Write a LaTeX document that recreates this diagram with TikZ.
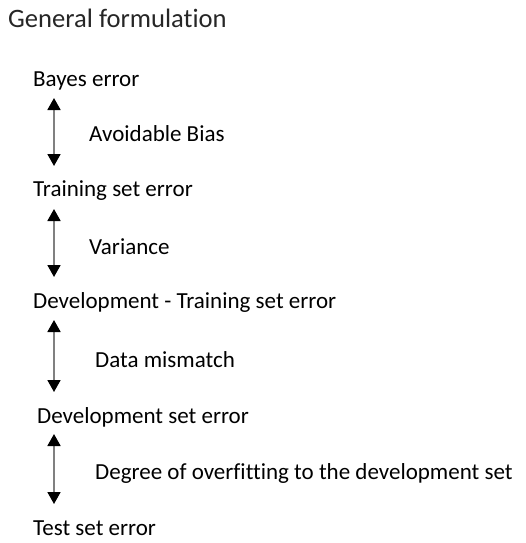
\documentclass[tikz,border=0pt]{standalone}
\usepackage{fontspec}
\setmainfont[Ligatures={NoCommon,TeX}]{Carlito}
\usetikzlibrary{arrows.meta}
\tikzset{
  lbl/.style={anchor=base west, inner sep=0pt, font=\fontsize{23}{27}\selectfont, text=black},
  ttl/.style={anchor=base west, inner sep=0pt, font=\fontsize{26.6}{31}\selectfont, text=black!85},
  gap/.style={draw=black!50, line width=1.8pt, {Triangle[length=12pt,width=13pt,color=black]}-{Triangle[length=12pt,width=13pt,color=black]}}
}
\begin{document}
\begin{tikzpicture}[x=1pt,y=-1pt]
\useasboundingbox (0,0) rectangle (526,543);
\node[ttl] (title) at (8,28) {General formulation};
\node[lbl] (bayes) at (33,86) {Bayes error};
\node[lbl] (bias) at (89,141.5) {Avoidable Bias};
\node[lbl] (train) at (33,196.5) {Training set error};
\node[lbl] (var) at (89,254) {Variance};
\node[lbl] (devtrain) at (33,308) {Development - Training set error};
\node[lbl] (mismatch) at (95,367) {Data mismatch};
\node[lbl] (dev) at (37,423) {Development set error};
\node[lbl] (over) at (95,479) {Degree of overfitting to the development set};
\node[lbl] (test) at (33,535) {Test set error};
\coordinate (a1) at (54,98);
\coordinate (b1) at (54,166);
\coordinate (a2) at (54,209);
\coordinate (b2) at (54,277);
\coordinate (a3) at (54,320);
\coordinate (b3) at (54,392);
\coordinate (a4) at (54,434);
\coordinate (b4) at (54,504);
\draw[gap] (a1) -- (b1);
\draw[gap] (a2) -- (b2);
\draw[gap] (a3) -- (b3);
\draw[gap] (a4) -- (b4);
\end{tikzpicture}
\end{document}
